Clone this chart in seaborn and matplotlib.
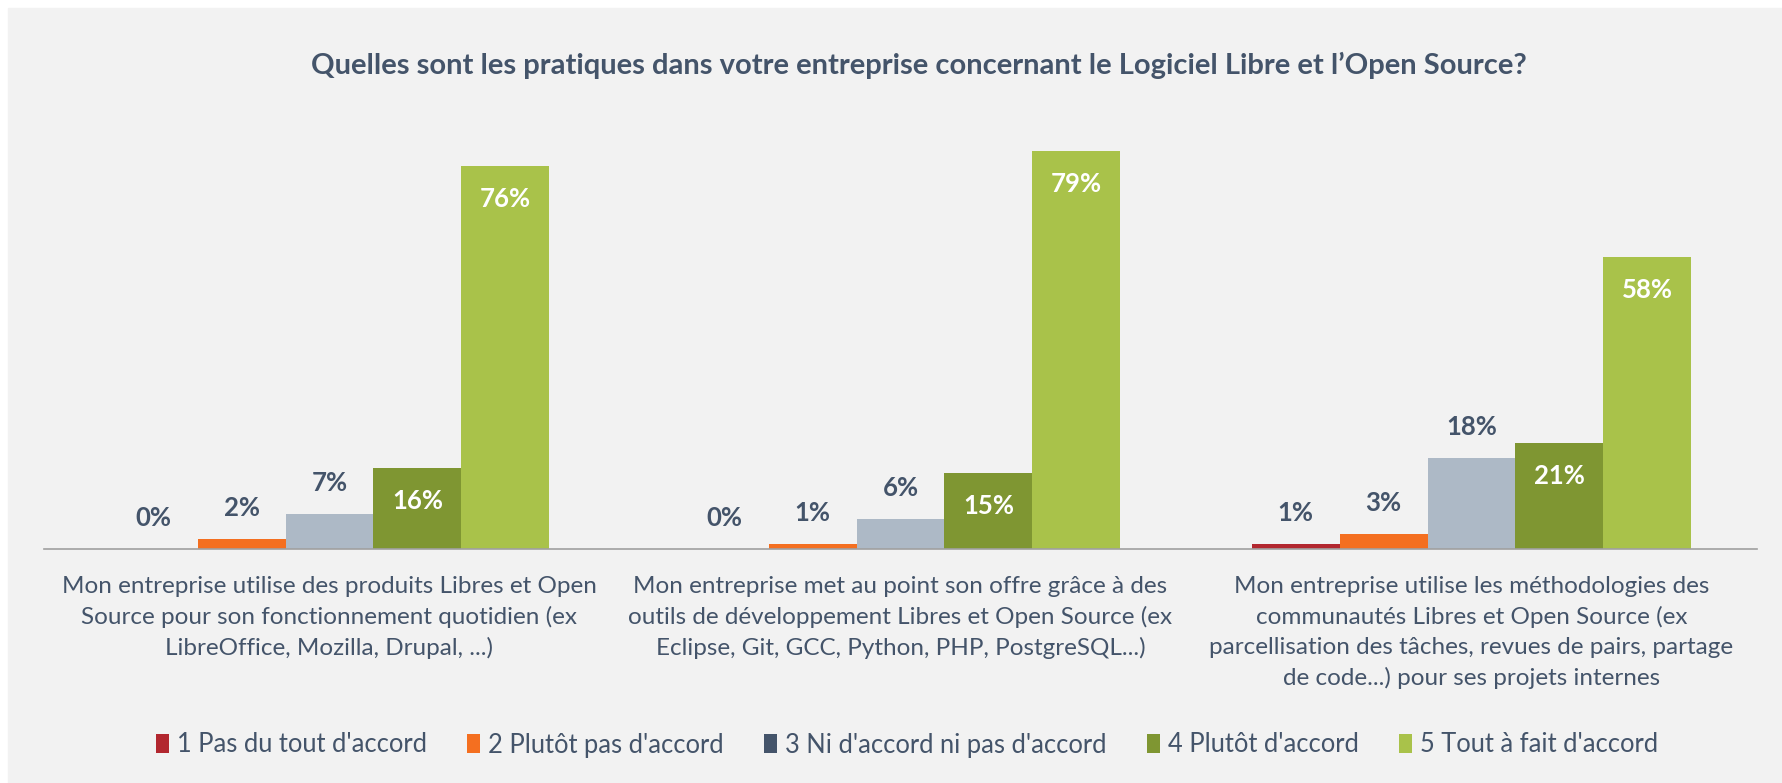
import pandas as pd
import seaborn as sns
import matplotlib.pyplot as plt
from matplotlib.patches import Patch, Rectangle

categories = [
    "Mon entreprise utilise des produits Libres et Open\nSource pour son fonctionnement quotidien (ex\nLibreOffice, Mozilla, Drupal, ...)",
    "Mon entreprise met au point son offre grâce à des\noutils de développement Libres et Open Source (ex\nEclipse, Git, GCC, Python, PHP, PostgreSQL...)",
    "Mon entreprise utilise les méthodologies des\ncommunautés Libres et Open Source (ex\nparcellisation des tâches, revues de pairs, partage\nde code...) pour ses projets internes",
]
series = [
    "1 Pas du tout d'accord",
    "2 Plutôt pas d'accord",
    "3 Ni d'accord ni pas d'accord",
    "4 Plutôt d'accord",
    "5 Tout à fait d'accord",
]
pas_du_tout = [0, 0, 1]
plutot_pas = [2, 1, 3]
ni_ni = [7, 6, 18]
plutot = [16, 15, 21]
tout_a_fait = [76, 79, 58]

bar_colors = ["#b2272f", "#f46f20", "#adb9c6", "#7f9632", "#a9c24a"]
legend_colors = ["#b2272f", "#f46f20", "#44546a", "#7f9632", "#a9c24a"]
text_col = "#44546a"
bg = "#f2f2f2"

values = [pas_du_tout, plutot_pas, ni_ni, plutot, tout_a_fait]
rows = []
for s, vals in zip(series, values):
    for c, v in zip(categories, vals):
        rows.append({"categorie": c, "reponse": s, "pct": v})
df = pd.DataFrame(rows)

sns.set_style("white")
plt.rcParams["font.family"] = ["Lato", "DejaVu Sans"]

W, H = 1783, 783
fig = plt.figure(figsize=(W / 100, H / 100), dpi=100, facecolor="white")
fig.patches.append(Rectangle((8 / W, 0), 1, 1 - 8 / H, transform=fig.transFigure,
                             color=bg, zorder=-10))

ax = fig.add_axes([44 / W, 1 - 549 / H, (1757 - 44) / W, (549 - 95.4) / H])
ax.set_facecolor("none")

sns.barplot(data=df, x="categorie", y="pct", hue="reponse", order=categories,
            hue_order=series, palette=bar_colors, saturation=1, width=0.77,
            linewidth=0, ax=ax, legend=False)

ax.set_xlim(-0.5, 2.5)
ax.set_ylim(0, 90)

# etiquettes de valeur : au-dessus pour 1-3, dans la barre pour 4-5
for i, cont in enumerate(ax.containers):
    for bar, v in zip(cont, values[i]):
        x = bar.get_x() + bar.get_width() / 2
        h = bar.get_height()
        if i < 3:
            ax.annotate(f"{v}%", (x, h), xytext=(0, 22.3), textcoords="offset points",
                        ha="center", va="center", fontsize=18.5, fontweight="bold", color=text_col)
        else:
            ax.annotate(f"{v}%", (x, h), xytext=(0, -23.7), textcoords="offset points",
                        ha="center", va="center", fontsize=18.5, fontweight="bold", color="white")

for sp in ["top", "right", "left"]:
    ax.spines[sp].set_visible(False)
ax.spines["bottom"].set_color("#a0a0a0")
ax.spines["bottom"].set_linewidth(1.2)
ax.set_yticks([])
ax.set_xlabel("")
ax.set_ylabel("")

ax.set_xticks([0, 1, 2])
ax.set_xticklabels(categories, fontsize=17.5, color=text_col, linespacing=1.5)
ax.tick_params(axis="x", which="major", length=0, pad=19.5)
ax.set_xticks([-0.5, 0.5, 1.5, 2.5], minor=True)
ax.tick_params(axis="x", which="minor", length=6, width=1.2, color="#a0a0a0", direction="out")

fig.text(919 / W, 1 - 65 / H,
         "Quelles sont les pratiques dans votre entreprise concernant le Logiciel Libre et l’Open Source?",
         ha="center", va="center", fontsize=21, fontweight="bold", color=text_col)

handles = [Patch(facecolor=c, edgecolor="none") for c in legend_colors]
leg = fig.legend(handles, series, loc="center", bbox_to_anchor=(0.5087, 1 - 745 / H), ncol=5,
                 frameon=False, fontsize=18.4, handlelength=0.5, handleheight=0.8,
                 handletextpad=0.3, columnspacing=1.6)
for t in leg.get_texts():
    t.set_color(text_col)

fig.savefig("out.png", dpi=100, facecolor=fig.get_facecolor())
